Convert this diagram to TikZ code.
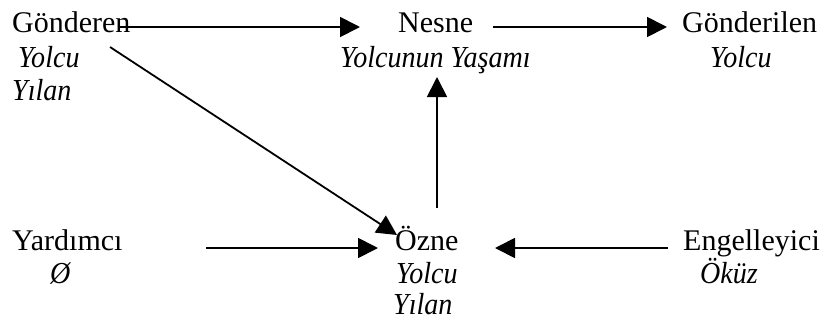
\documentclass[tikz,border=0pt]{standalone}
\usepackage{fontspec}
\setmainfont{Liberation Serif}[ItalicFeatures={FakeStretch=0.92}]
\usetikzlibrary{arrows.meta}
\begin{document}
\begin{tikzpicture}[x=1pt,y=-1pt,
  lbl/.style={anchor=base west,inner sep=0pt,font=\fontsize{30}{34}\selectfont},
  ilbl/.style={lbl,font=\fontsize{30.5}{34}\selectfont\itshape},
  arr/.style={line width=1.8pt,-{Triangle[length=20pt,width=20pt]}}]
\useasboundingbox (0,0) rectangle (825,322);
% top row
\node[lbl]  (gond)  at (12,32)  {Gönderen};
\node[ilbl] (gond1) at (18,67)  {Yolcu};
\node[ilbl] (gond2) at (12,100) {Yılan};
\node[lbl]  (nesne) at (398,32) {Nesne};
\node[ilbl] (nesne1) at (340,67) {Yolcunun Yaşamı};
\node[lbl]  (alici) at (682,32) {Gönderilen};
\node[ilbl] (alici1) at (710,67) {Yolcu};
% bottom row
\node[lbl]  (yard)  at (12,250) {Yardımcı};
\node[ilbl] (yard1) at (50,283) {Ø};
\node[lbl]  (ozne)  at (395,250) {Özne};
\node[ilbl] (ozne1) at (396,283) {Yolcu};
\node[ilbl] (ozne2) at (393,314) {Yılan};
\node[lbl]  (eng)   at (683,250) {Engelleyici};
\node[ilbl] (eng1)  at (700,283) {Öküz};
% connector end points
\coordinate (a1s) at (120,27);  \coordinate (a1e) at (360,27);
\coordinate (a2s) at (493,27);  \coordinate (a2e) at (667,27);
\coordinate (dgs) at (110,47);  \coordinate (dge) at (397,235);
\coordinate (vs)  at (437,208); \coordinate (ve)  at (437,77);
\coordinate (ys)  at (206,248); \coordinate (ye)  at (378,248);
\coordinate (es)  at (668,248); \coordinate (ee)  at (495,248);
\draw[arr] (a1s) -- (a1e);
\draw[arr] (a2s) -- (a2e);
\draw[arr] (dgs) -- (dge);
\draw[arr] (vs) -- (ve);
\draw[arr] (ys) -- (ye);
\draw[arr] (es) -- (ee);
\end{tikzpicture}
\end{document}
